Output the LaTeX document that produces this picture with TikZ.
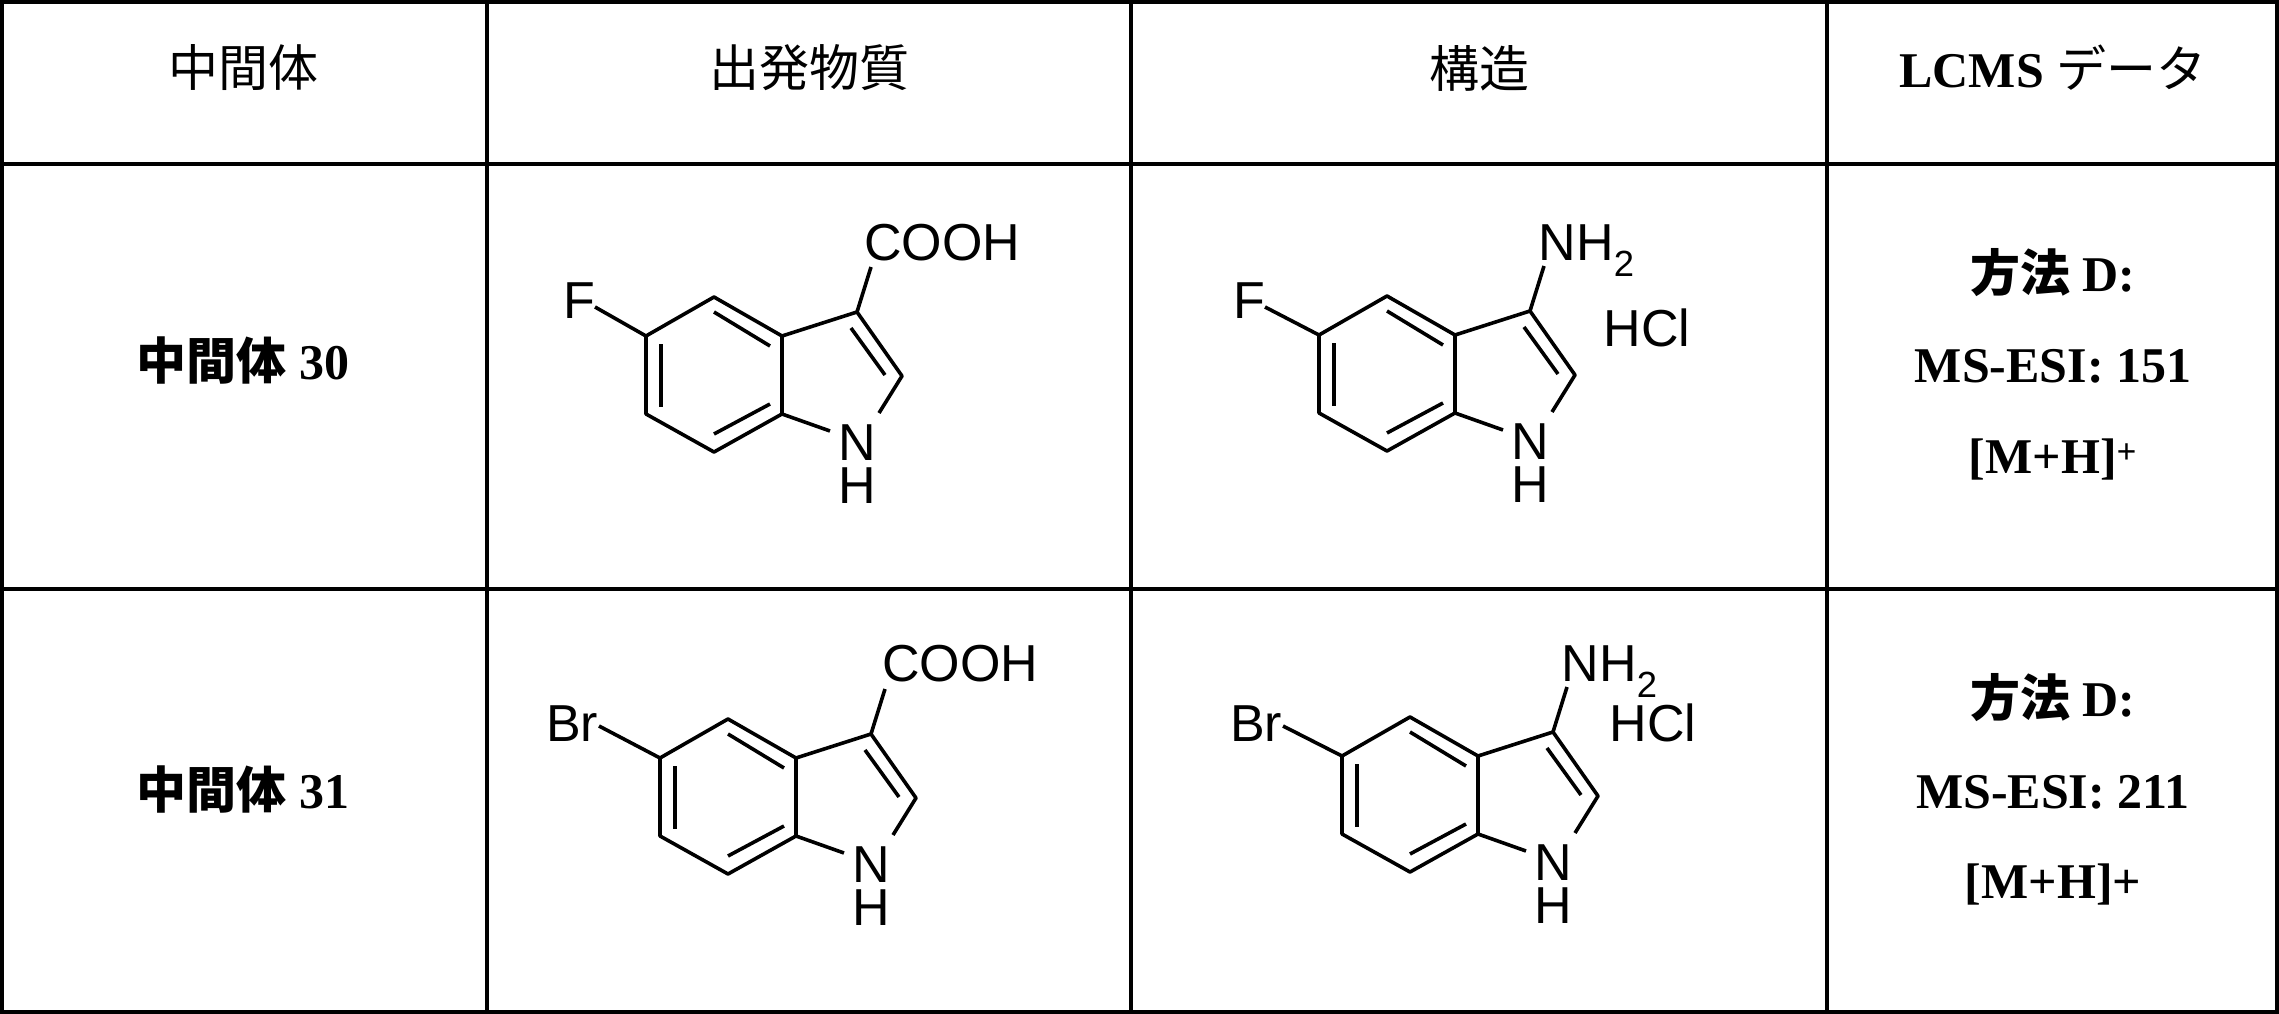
\documentclass[tikz,border=0pt]{standalone}
\usepackage{fontspec}
\setmainfont{Liberation Serif}
\newfontfamily\chem{Liberation Sans}
\newfontfamily\jp{Noto Sans CJK JP}
\newfontfamily\jpb{Noto Sans CJK JP Bold}
\begin{document}
\begin{tikzpicture}[x=1pt,y=-1pt,line width=3.6pt,
  atom/.style={inner sep=0pt,text height=38pt,text depth=0pt,font=\chem\fontsize{52}{52}\selectfont},
  hd/.style={inner sep=0pt,font=\fontsize{50}{52}\selectfont},
  bd/.style={inner sep=0pt,font=\bfseries\fontsize{50}{56}\selectfont,align=center}]
\useasboundingbox (0,0) rectangle (2279,1014);
% table
\draw[line width=4pt] (2,2) rectangle (2277,1012);
\foreach \x in {487,1131,1827} \draw[line width=4pt] (\x,0) -- (\x,1014);
\foreach \y in {164,589} \draw[line width=4pt] (0,\y) -- (2279,\y);
% header
\node[hd] (h1) at (243,68) {\jp 中間体};
\node[hd] (h2) at (809,68) {\jp 出発物質};
\node[hd] (h3) at (1479,68) {\jp 構造};
\node[hd] (h4) at (2053,68) {\textbf{LCMS} \jp データ};
% col1
\node[bd] (r1) at (243,360) {{\jpb 中間体} 30};
\node[bd] (r2) at (243,789) {{\jpb 中間体} 31};
% col4
\node[bd] (l1a) at (2053,273) {{\jpb 方法} D:};
\node[bd] (l1b) at (2053,366) {MS-ESI: 151};
\node[bd] (l1c) at (2053,459) {[M+H]\textsuperscript{+}};
\node[bd] (l2a) at (2053,698) {{\jpb 方法} D:};
\node[bd] (l2b) at (2053,792) {MS-ESI: 211};
\node[bd] (l2c) at (2053,884) {[M+H]+};
% indole core
\newcommand\indolecore{%
  \coordinate (T) at (0,0); \coordinate (UR) at (68,39); \coordinate (LR) at (68,117);
  \coordinate (B) at (0,155); \coordinate (LL) at (-68,117); \coordinate (UL) at (-68,39);
  \coordinate (C3) at (143,15); \coordinate (C2) at (188,79);
  \draw[line join=round] (UL) -- (T) -- (UR) -- (LR) -- (B) -- (LL) -- cycle;
  \draw (0,15) -- (56,49); \draw (-53,47) -- (-53,110); \draw (0,137) -- (56,107);
  \draw[line join=round] (UR) -- (C3) -- (C2) -- (165,116);
  \draw (137,31) -- (171,78);
  \draw (LR) -- (116,134);
  \node[atom] (N) at (143,144) {N};
  \node[atom] (H) at (143,187) {H};
}
% row1 start
\begin{scope}[shift={(714,297)}]
  \indolecore
  \draw (C3) -- (157,-30);
  \node[atom] (cooh1) at (228,-56) {COOH};
  \node[atom] (f1) at (-135,2) {F};
  \draw (-119,10) -- (UL);
\end{scope}
% row2 start
\begin{scope}[shift={(728,719)}]
  \indolecore
  \draw (C3) -- (157,-30);
  \node[atom] (cooh2) at (232,-57) {COOH};
  \node[atom] (br1) at (-156,3) {Br};
  \draw (-129,7) -- (UL);
\end{scope}
% row1 structure
\begin{scope}[shift={(1387,296)}]
  \indolecore
  \draw (C3) -- (157,-30);
  \node[atom,anchor=west] (nh1) at (150,-55) {NH\textsubscript{2}};
  \node[atom] (hcl1) at (260,31) {HCl};
  \node[atom] (f2) at (-138,3) {F};
  \draw (-122,11) -- (UL);
\end{scope}
% row2 structure
\begin{scope}[shift={(1410,717)}]
  \indolecore
  \draw (C3) -- (157,-30);
  \node[atom,anchor=west] (nh2) at (150,-55) {NH\textsubscript{2}};
  \node[atom] (hcl2) at (243,5) {HCl};
  \node[atom] (br2) at (-154,5) {Br};
  \draw (-127,9) -- (UL);
\end{scope}
\end{tikzpicture}
\end{document}
